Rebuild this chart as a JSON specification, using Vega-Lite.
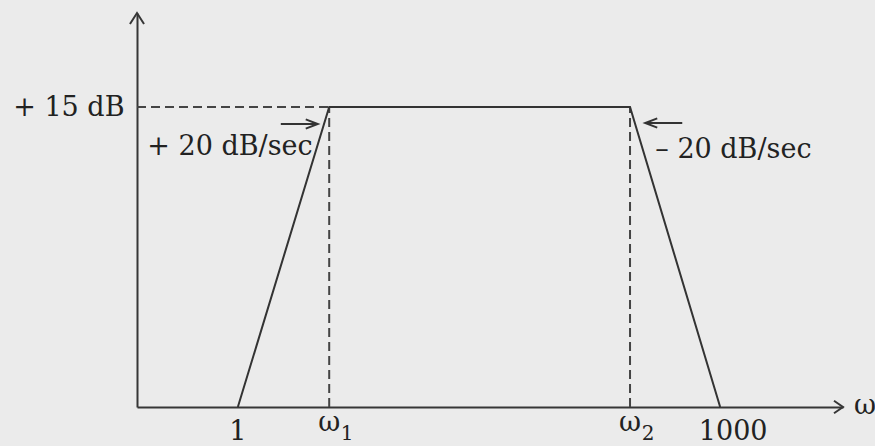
{
  "$schema": "https://vega.github.io/schema/vega-lite/v6.json",
  "autosize": {"type": "none"},
  "padding": {"left": 137, "top": 13, "right": 32, "bottom": 39},
  "width": 706,
  "height": 394,
  "background": "#ebebeb",
  "config": {
    "view": {"stroke": null},
    "font": "DejaVu Serif"
  },
  "datasets": {
    "profile": [
      {"w": 1, "db": 0},
      {"w": 3.7, "db": 15},
      {"w": 275, "db": 15},
      {"w": 1000, "db": 0}
    ],
    "guides": [
      {"w": 0.2359, "w2": 3.7, "db": 15, "db2": 15},
      {"w": 3.7, "w2": 3.7, "db": 0, "db2": 15},
      {"w": 275, "w2": 275, "db": 0, "db2": 15}
    ],
    "pointers": [
      {"name": "rise", "w": 1.85, "w2": 3.14, "db": 14.15},
      {"name": "fall", "w": 342, "w2": 581, "db": 14.2}
    ],
    "tips": [
      {"name": "yaxis", "w": 0.2359, "db": 19.7},
      {"name": "xaxis", "w": 5808, "db": 0},
      {"name": "rise", "w": 3.14, "db": 14.15},
      {"name": "fall", "w": 342, "db": 14.2}
    ],
    "notes": [
      {"name": "rise", "w": 2.92, "db": 13.0, "text": "+ 20 dB/sec"},
      {"name": "fall", "w": 395, "db": 12.85, "text": "– 20 dB/sec"},
      {"name": "omega", "w": 5808, "db": 0, "text": "ω"}
    ],
    "ticks": [
      {"name": "low", "w": 1, "db": 0, "text": "1"},
      {"name": "high", "w": 1000, "db": 0, "text": "1000"}
    ],
    "corners": [
      {"w": 3.7, "db": 0, "text": "ω", "sub": "1"},
      {"w": 275, "db": 0, "text": "ω", "sub": "2"}
    ]
  },
  "encoding": {
    "x": {
      "field": "w",
      "type": "quantitative",
      "scale": {"type": "log", "domain": [0.2359, 5808], "nice": false},
      "axis": {
        "values": [1, 1000],
        "labels": false,
        "title": null,
        "grid": false,
        "ticks": false,
        "tickSize": 0,
        "domainColor": "#363636",
        "domainWidth": 2
      }
    },
    "y": {
      "field": "db",
      "type": "quantitative",
      "scale": {"domain": [0, 19.7], "nice": false, "zero": false},
      "axis": {
        "values": [15],
        "labelExpr": "'+ 15 dB'",
        "title": null,
        "grid": false,
        "ticks": false,
        "tickSize": 0,
        "labelFont": "DejaVu Serif",
        "labelFontSize": 27,
        "labelColor": "#222222",
        "labelBaseline": "middle",
        "labelPadding": 13,
        "domainColor": "#363636",
        "domainWidth": 2
      }
    }
  },
  "layer": [
    {
      "data": {"name": "guides"},
      "mark": {"type": "rule", "color": "#444444", "strokeWidth": 2, "strokeDash": [9, 5]},
      "encoding": {
        "x2": {"field": "w2"},
        "y2": {"field": "db2"}
      }
    },
    {
      "data": {"name": "profile"},
      "mark": {"type": "line", "color": "#333333", "strokeWidth": 2},
      "encoding": {}
    },
    {
      "data": {"name": "pointers"},
      "mark": {"type": "rule", "color": "#333333", "strokeWidth": 2},
      "encoding": {
        "x2": {"field": "w2"}
      }
    },
    {
      "data": {"name": "tips"},
      "transform": [{"filter": "datum.name === 'yaxis'"}],
      "mark": {"type": "point", "shape": "M-0.64,1L0,0L0.64,1", "size": 484, "filled": false, "stroke": "#363636", "strokeWidth": 2, "opacity": 1}
    },
    {
      "data": {"name": "tips"},
      "transform": [{"filter": "datum.name === 'xaxis'"}],
      "mark": {"type": "point", "shape": "M-1,-0.7L0,0L-1,0.7", "size": 324, "filled": false, "stroke": "#363636", "strokeWidth": 2, "opacity": 1}
    },
    {
      "data": {"name": "tips"},
      "transform": [{"filter": "datum.name === 'rise'"}],
      "mark": {"type": "point", "shape": "M-1,-0.38L0,0L-1,0.38", "size": 576, "filled": false, "stroke": "#333333", "strokeWidth": 2, "opacity": 1}
    },
    {
      "data": {"name": "tips"},
      "transform": [{"filter": "datum.name === 'fall'"}],
      "mark": {"type": "point", "shape": "M1,-0.38L0,0L1,0.38", "size": 576, "filled": false, "stroke": "#333333", "strokeWidth": 2, "opacity": 1}
    },
    {
      "data": {"name": "notes"},
      "transform": [{"filter": "datum.name === 'rise'"}],
      "mark": {"type": "text", "align": "right", "baseline": "middle", "font": "DejaVu Serif", "fontSize": 27, "color": "#222222"},
      "encoding": {"text": {"field": "text"}}
    },
    {
      "data": {"name": "notes"},
      "transform": [{"filter": "datum.name === 'fall'"}],
      "mark": {"type": "text", "align": "left", "baseline": "middle", "font": "DejaVu Serif", "fontSize": 27, "color": "#222222"},
      "encoding": {"text": {"field": "text"}}
    },
    {
      "data": {"name": "notes"},
      "transform": [{"filter": "datum.name === 'omega'"}],
      "mark": {"type": "text", "align": "center", "baseline": "middle", "dx": 22, "dy": -1, "font": "DejaVu Serif", "fontSize": 27, "color": "#222222", "clip": false},
      "encoding": {"text": {"field": "text"}}
    },
    {
      "data": {"name": "ticks"},
      "transform": [{"filter": "datum.name === 'low'"}],
      "mark": {"type": "text", "align": "center", "baseline": "middle", "dy": 25, "font": "DejaVu Serif", "fontSize": 27, "color": "#222222"},
      "encoding": {"text": {"field": "text"}}
    },
    {
      "data": {"name": "ticks"},
      "transform": [{"filter": "datum.name === 'high'"}],
      "mark": {"type": "text", "align": "center", "baseline": "middle", "dx": 13, "dy": 25, "font": "DejaVu Serif", "fontSize": 27, "color": "#222222"},
      "encoding": {"text": {"field": "text"}}
    },
    {
      "data": {"name": "corners"},
      "mark": {"type": "text", "align": "center", "baseline": "middle", "dx": 0, "dy": 16, "font": "DejaVu Serif", "fontSize": 27, "color": "#222222"},
      "encoding": {"text": {"field": "text"}}
    },
    {
      "data": {"name": "corners"},
      "mark": {"type": "text", "align": "center", "baseline": "middle", "dx": 18, "dy": 27, "font": "DejaVu Serif", "fontSize": 20, "color": "#222222"},
      "encoding": {"text": {"field": "sub"}}
    }
  ]
}
